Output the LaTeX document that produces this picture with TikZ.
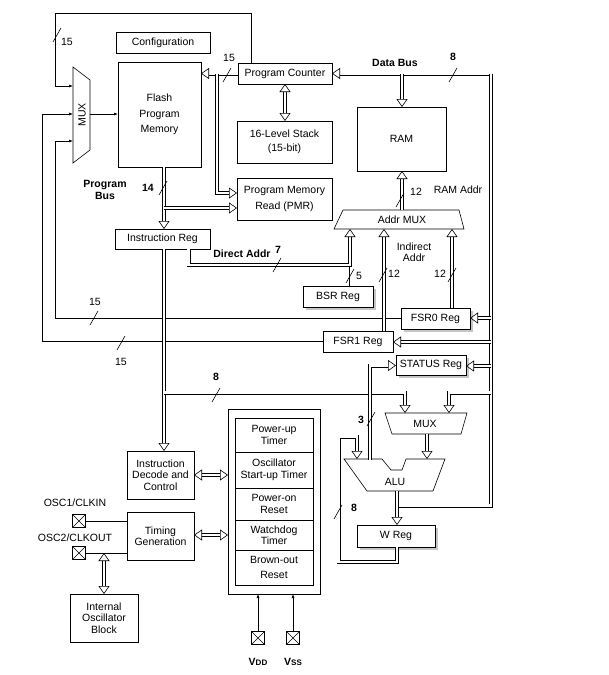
\documentclass[tikz,border=0pt]{standalone}
\usepackage{fontspec}
\setmainfont{Liberation Sans}
\usetikzlibrary{arrows.meta,shadows,calc}
\begin{document}
\begin{tikzpicture}[x=1pt,y=-1pt,line width=0.6pt,
  font=\fontsize{10.5}{11.5}\selectfont,
  box/.style={draw,inner sep=0pt,outer sep=0pt,align=center},
  sbox/.style={box,fill=white,drop shadow={shadow xshift=3pt,shadow yshift=-3pt,fill=gray!45,opacity=1}},
  bus/.style={double distance=2.8pt,line width=0.6pt},
  busarr/.style={bus,-{Triangle[open,length=8pt,width=11pt]}},
  busdbl/.style={bus,{Triangle[open,length=8pt,width=11pt]}-{Triangle[open,length=8pt,width=11pt]}},
  sarr/.style={-{Latex[length=4pt,width=3pt]}},
  lbl/.style={inner sep=0pt},
  blbl/.style={inner sep=0pt,font=\fontsize{10.5}{11.5}\selectfont\bfseries},
  xbox/.style={draw,minimum size=13pt,inner sep=0pt,path picture={\draw (path picture bounding box.south west)--(path picture bounding box.north east) (path picture bounding box.north west)--(path picture bounding box.south east);}}
]
\useasboundingbox (0,0) rectangle (609,675);
\newcommand\bslash[2]{\draw (#1-4,#2+7)--(#1+4,#2-7);}
\newcommand\bx[7][box]{\pgfmathsetmacro\bw{#5-#3}\pgfmathsetmacro\bh{#6-#4}%
  \node[#1,minimum width=\bw pt,minimum height=\bh pt] (#2) at ({(#3+#5)/2},{(#4+#6)/2}) {#7};}
% boxes
\bx{cfg}{116}{32}{210}{53}{Configuration}
\bx{flash}{118}{62}{201}{167}{Flash\\[4pt]Program\\[4pt]Memory}
\bx{pc}{238}{63}{332}{84}{Program Counter}
\bx{stack}{237}{121}{332}{163}{16-Level Stack\\[2pt](15-bit)}
\bx{pmr}{237}{178}{332}{220}{Program Memory\\[5pt]Read (PMR)}
\bx{ram}{357}{107}{446}{171}{RAM}
\bx{ir}{115}{229}{210}{249}{Instruction Reg}
\bx[sbox]{bsr}{303}{286}{373}{307}{BSR Reg}
\bx[sbox]{fsr0}{401}{308}{470}{329}{FSR0 Reg}
\bx{fsr1}{323}{331}{393}{352}{FSR1 Reg}
\bx[sbox]{status}{396}{355}{466}{375}{STATUS Reg}
\bx[sbox]{wreg}{357}{525}{435}{547}{W Reg}
\bx{dec}{127}{451}{194}{499}{Instruction\\Decode and\\Control}
\bx{tim}{127}{512}{194}{560}{Timing\\Generation}
\bx{iosc}{70}{594}{138}{642}{Internal\\Oscillator\\Block}
\bx{pwr}{228}{409}{320}{594}{}
\bx{p1}{235}{418}{313}{452}{Power-up\\Timer}
\bx{p2}{235}{452}{313}{488}{Oscillator\\Start-up Timer}
\bx{p3}{235}{488}{313}{520}{Power-on\\Reset}
\bx{p4}{235}{520}{313}{550}{Watchdog\\Timer}
\bx{p5}{235}{550}{313}{585}{Brown-out\\[3pt]Reset}
% muxes
\draw (73,67)--(90,80)--(90,150)--(73,163)--cycle;
\node[lbl,rotate=90] (mux) at (82,115) {MUX};
\draw (343,210)--(459,210)--(464,229)--(334,229)--cycle;
\node[lbl] (amux) at (402,220) {Addr MUX};
\draw (385,413)--(467,413)--(461,434)--(392,434)--cycle;
\node[lbl] (mux2) at (425,424) {MUX};
\draw (344,459)--(382,459)--(391,470)--(402,470)--(406,459)--(445,459)--(433,491)--(367,491)--cycle;
\node[lbl] (alu) at (395,482) {ALU};
% pins
\node[xbox] (osc1) at (79,521) {};
\node[xbox] (osc2) at (79,553) {};
\node[xbox] (vdd) at (258,638) {};
\node[xbox] (vss) at (293,638) {};
% program counter / mux loops
\draw[sarr] ($(pc.north west)+(13,0)$) |- (55,13) |- (73,86);
\draw[sarr] (90,114) -- (flash.west |- 0,114);
\draw[sarr] (fsr0.west) -| (55,141) -- (73,141);
\draw[sarr] (fsr1.west) -| (42,114) -- (73,114);
% data bus
\draw[busarr] (491,73.5) -- (pc.east |- 0,73.5);
\draw[bus] (491,73.5) -- (491,505.5) -- (399,505.5);
\draw[busarr] (402,73.5) -- (ram.north -| 402,0);
\draw[busarr] (491,318) -- (fsr0.east |- 0,318);
\draw[busarr] (491,342) -- (fsr1.east |- 0,342);
\draw[busarr] (491,366) -- (status.east |- 0,366);
\draw[busarr] (491,392.5) -| (449,413);
% stack
\draw[busdbl] (pc.south -| 285,0) -- (stack.north -| 285,0);
% PC -> flash, PMR
\draw[busarr] (pc.west |- 0,73.5) -- (flash.east |- 0,73.5);
\draw[busarr] (217,73.5) |- (pmr.west |- 0,193);
% flash -> IR
\draw[busarr] (164,167) -- (ir.north -| 164,0);
\draw[busarr] (164,208) -- (pmr.west |- 0,208);
% IR -> decode, ALU mux
\draw[busarr] (164,249) -- (dec.north -| 164,0);
\draw[busarr] (164,392.5) -| (405,413);
% direct addr
\draw[busarr] (188.5,249) |- (350,265) -- (350,229);
\draw (bsr.north -| 349,0) -- (349,266);
\draw[busarr] (fsr1.north -| 384,0) -- (384,229);
\draw[busarr] (fsr0.north -| 452,0) -- (452,229);
\draw[busarr] (402,210) -- (ram.south -| 402,0);
% ALU area
\draw[busarr] (427,434) -- (427,459);
\draw[busarr] (370,460) |- (status.west |- 0,365.5);
\draw[busarr] (397,491) -- (wreg.north -| 397,0);
\draw[busarr] (397,547) |- (338.5,562) |- (357,436.5) -- (357,459);
% decode / timing
\draw[busdbl] (dec.east |- 0,475) -- (pwr.west |- 0,475);
\draw[busdbl] (tim.east |- 0,535) -- (pwr.west |- 0,535);
\draw (osc1.east) -- (tim.west |- osc1.east);
\draw (osc2.east) -- (tim.west |- osc2.east);
\draw[busdbl] (104,553) -- (iosc.north -| 104,0);
\draw[sarr] (vdd.north) -- (pwr.south -| vdd.north);
\draw[sarr] (vss.north) -- (pwr.south -| vss.north);
% slashes
\bslash{57}{35}\bslash{227}{75}\bslash{453}{75}\bslash{163}{188}\bslash{400}{200}
\bslash{277}{265}\bslash{350}{276}\bslash{383}{275}\bslash{452}{275}
\bslash{94}{318}\bslash{121}{343}\bslash{216}{395}\bslash{371}{419}\bslash{338}{512}
% labels
\node[lbl] at (67,42) {15};
\node[lbl] at (229,58) {15};
\node[lbl] at (95,302) {15};
\node[lbl] at (121,362) {15};
\node[blbl] at (395,63) {Data Bus};
\node[blbl] at (453,57) {8};
\node[blbl,align=center] at (105,190) {Program\\Bus};
\node[blbl] at (148,188) {14};
\node[lbl] at (416,192) {12};
\node[lbl] at (458,190) {RAM Addr};
\node[blbl] at (242,254) {Direct Addr};
\node[blbl] at (278,250) {7};
\node[lbl] at (359,276) {5};
\node[lbl] at (394,274) {12};
\node[lbl] at (440,274) {12};
\node[lbl,align=center] at (414,252) {Indirect\\Addr};
\node[blbl] at (216,377) {8};
\node[blbl] at (361,420) {3};
\node[blbl] at (354,508) {8};
\node[lbl] at (75,503) {OSC1/CLKIN};
\node[lbl] at (75,538) {OSC2/CLKOUT};
\node[blbl] at (258,662) {V{\fontsize{8}{9}\selectfont DD}};
\node[blbl] at (293,662) {V{\fontsize{8}{9}\selectfont SS}};
\end{tikzpicture}
\end{document}
